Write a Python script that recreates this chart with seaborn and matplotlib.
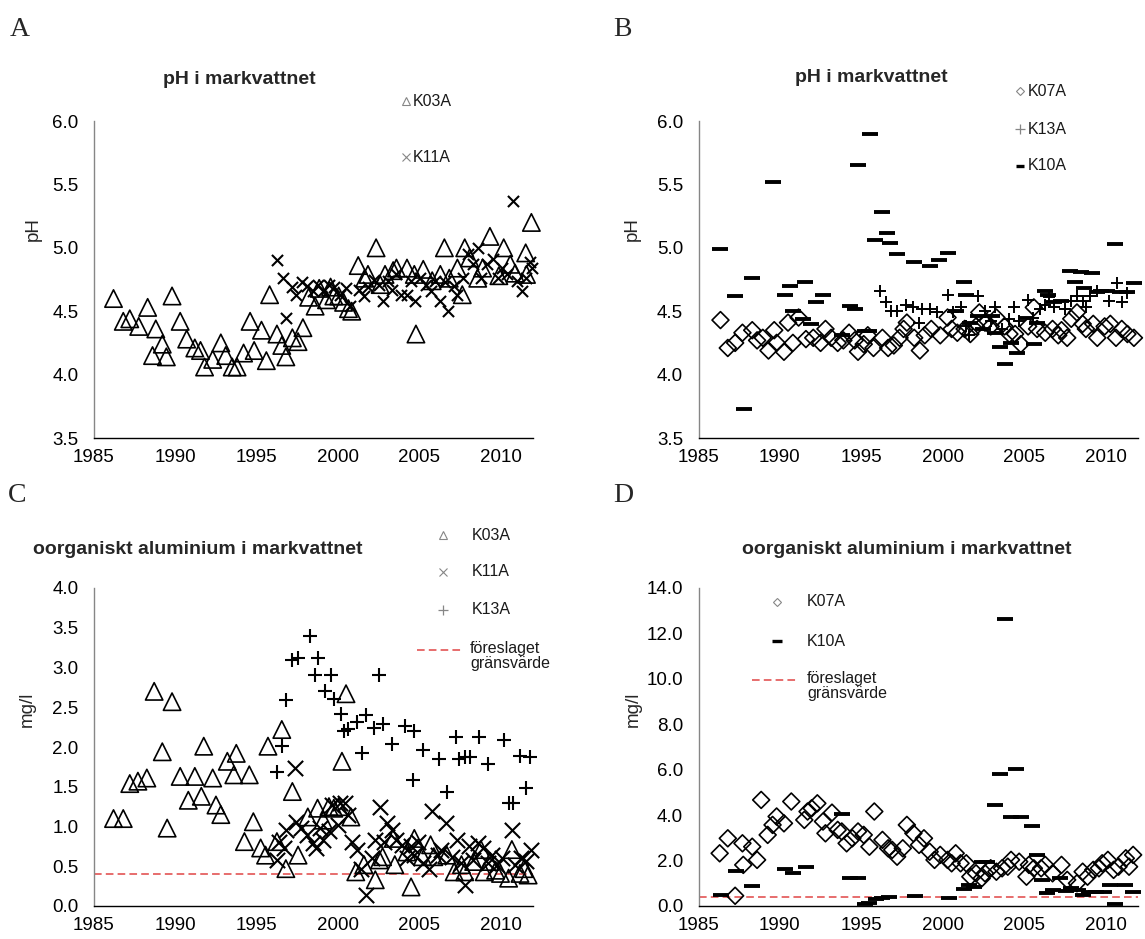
import matplotlib
matplotlib.use("Agg")
import matplotlib.pyplot as plt
import numpy as np
import pandas as pd
import seaborn as sns

# ---------------------------------------------------------------- data
# Panel A: pH in soil water, K03A and K11A
a_k03_year = [1986.2, 1986.8, 1987.2, 1987.75, 1988.3, 1988.6, 1988.8, 1989.2, 1989.45, 1989.8,
              1990.3, 1990.7, 1991.2, 1991.55, 1991.8, 1992.3, 1992.8, 1993.1, 1993.5, 1993.8,
              1994.2, 1994.6, 1994.85, 1995.3, 1995.6, 1995.8, 1996.25, 1996.55, 1996.8, 1997.2,
              1997.55, 1997.85, 1998.2, 1998.6, 1998.85, 1999.3, 1999.55, 1999.75, 2000.05, 2000.35,
              2000.65, 2000.85, 2001.25, 2001.65, 2001.85, 2002.35, 2002.6, 2002.9, 2003.4, 2003.6,
              2004.25, 2004.7, 2004.8, 2005.25, 2005.8, 2006.3, 2006.55, 2006.85, 2007.35, 2007.65,
              2007.8, 2008.1, 2008.6, 2008.9, 2009.35, 2009.9, 2010.2, 2010.6, 2010.9, 2011.55,
              2011.9, 2011.6]
a_k03_ph = [4.60, 4.42, 4.44, 4.38, 4.53, 4.15, 4.36, 4.24, 4.14, 4.62,
            4.42, 4.28, 4.21, 4.19, 4.06, 4.12, 4.25, 4.15, 4.06, 4.06,
            4.17, 4.42, 4.19, 4.35, 4.11, 4.63, 4.32, 4.23, 4.14, 4.29,
            4.26, 4.37, 4.61, 4.54, 4.68, 4.59, 4.69, 4.62, 4.62, 4.57,
            4.52, 4.50, 4.86, 4.76, 4.79, 5.00, 4.71, 4.79, 4.82, 4.84,
            4.84, 4.79, 4.32, 4.83, 4.74, 4.79, 5.00, 4.76, 4.84, 4.63,
            5.00, 4.92, 4.76, 4.84, 5.09, 4.78, 5.00, 4.87, 4.80, 4.96,
            5.20, 4.79]
a_k11_year = [1996.25, 1996.6, 1996.8, 1997.2, 1997.45, 1997.8, 1998.1, 1998.45, 1998.8, 1999.1,
              1999.45, 1999.75, 2000.1, 2000.5, 2000.75, 2001.3, 2001.6, 2001.85, 2002.2, 2002.5,
              2002.8, 2003.1, 2003.35, 2003.6, 2003.9, 2004.25, 2004.5, 2004.75, 2005.05, 2005.4,
              2005.7, 2006.0, 2006.25, 2006.6, 2006.8, 2007.15, 2007.35, 2007.7, 2008.0, 2008.3,
              2008.6, 2008.8, 2009.15, 2009.55, 2009.85, 2010.1, 2010.4, 2010.8, 2011.0, 2011.3,
              2011.55, 2011.8, 2011.95]
a_k11_ph = [4.90, 4.76, 4.45, 4.69, 4.63, 4.73, 4.70, 4.66, 4.71, 4.66,
            4.71, 4.69, 4.63, 4.68, 4.54, 4.67, 4.62, 4.69, 4.75, 4.71,
            4.58, 4.74, 4.67, 4.79, 4.63, 4.63, 4.74, 4.58, 4.76, 4.71,
            4.66, 4.74, 4.58, 4.73, 4.50, 4.70, 4.63, 4.76, 4.95, 4.87,
            5.00, 4.76, 4.87, 4.91, 4.76, 4.84, 4.79, 5.37, 4.74, 4.66,
            4.76, 4.89, 4.84]

# Panel B: pH in soil water, K07A, K13A and K10A
b_k07_year = [1986.35, 1986.8, 1987.25, 1987.7, 1988.3, 1988.6, 1988.95, 1989.3, 1989.65, 1989.8,
              1990.25, 1990.5, 1990.8, 1991.15, 1991.6, 1992.05, 1992.5, 1992.8, 1993.15, 1993.55,
              1993.9, 1994.25, 1994.6, 1994.8, 1995.15, 1995.4, 1995.75, 1996.3, 1996.65, 1997.0,
              1997.35, 1997.6, 1997.8, 1998.25, 1998.6, 1998.9, 1999.3, 1999.85, 2000.3, 2000.55,
              2000.9, 2001.35, 2001.7, 2002.05, 2002.25, 2002.6, 2002.95, 2003.3, 2003.8, 2004.1,
              2004.45, 2004.8, 2005.25, 2005.6, 2005.8, 2006.3, 2006.75, 2007.1, 2007.3, 2007.65,
              2007.9, 2008.25, 2008.6, 2008.8, 2009.25, 2009.5, 2009.95, 2010.3, 2010.65, 2011.0,
              2011.35, 2011.75]
b_k07_ph = [4.43, 4.21, 4.25, 4.33, 4.35, 4.27, 4.29, 4.19, 4.35, 4.25,
            4.18, 4.41, 4.25, 4.45, 4.28, 4.29, 4.25, 4.36, 4.29, 4.25,
            4.27, 4.33, 4.27, 4.18, 4.24, 4.31, 4.21, 4.29, 4.21, 4.23,
            4.29, 4.36, 4.41, 4.29, 4.19, 4.31, 4.36, 4.31, 4.45, 4.36,
            4.33, 4.36, 4.32, 4.38, 4.49, 4.41, 4.38, 4.45, 4.38, 4.32,
            4.32, 4.24, 4.38, 4.53, 4.36, 4.33, 4.36, 4.31, 4.35, 4.29,
            4.44, 4.49, 4.40, 4.36, 4.40, 4.29, 4.38, 4.40, 4.29, 4.36,
            4.32, 4.29]
b_k13_year = [1996.15, 1996.5, 1996.8, 1997.2, 1997.75, 1998.15, 1998.55, 1998.7, 1999.25, 1999.65,
              2000.35, 2000.65, 2001.1, 2001.45, 2001.6, 2002.15, 2002.6, 2002.95, 2003.2, 2003.65,
              2004.1, 2004.4, 2004.7, 2005.25, 2005.55, 2006.0, 2006.3, 2006.55, 2006.85, 2007.5,
              2007.9, 2008.25, 2008.6, 2008.8, 2009.05, 2009.5, 2010.2, 2010.7, 2011.0, 2011.35]
b_k13_ph = [4.66, 4.57, 4.50, 4.50, 4.55, 4.53, 4.41, 4.52, 4.52, 4.49,
            4.63, 4.49, 4.53, 4.38, 4.31, 4.62, 4.50, 4.42, 4.53, 4.36,
            4.44, 4.53, 4.42, 4.59, 4.45, 4.52, 4.55, 4.61, 4.53, 4.52,
            4.58, 4.62, 4.58, 4.53, 4.62, 4.66, 4.58, 4.72, 4.57, 4.64]
b_k10_year = [1986.3, 1987.25, 1987.8, 1988.3, 1989.6, 1990.3, 1990.6, 1990.8, 1991.4, 1991.55,
              1991.9, 1992.2, 1992.65, 1993.8, 1994.3, 1994.6, 1994.8, 1995.2, 1995.5, 1995.55,
              1995.85, 1996.3, 1996.6, 1996.75, 1997.2, 1998.25, 1999.25, 1999.8, 2000.3, 2000.8,
              2001.3, 2001.45, 2001.7, 2002.15, 2002.5, 2003.0, 2003.2, 2003.55, 2003.8, 2004.2,
              2004.55, 2005.15, 2005.6, 2005.8, 2006.3, 2006.5, 2006.85, 2007.3, 2007.8, 2008.1,
              2008.5, 2008.7, 2009.2, 2009.5, 2009.75, 2010.1, 2010.6, 2010.9, 2011.3, 2011.75]
b_k10_ph = [4.99, 4.62, 3.73, 4.76, 5.52, 4.63, 4.70, 4.50, 4.44, 4.73,
            4.40, 4.57, 4.63, 4.31, 4.54, 4.52, 5.65, 4.34, 4.34, 5.90,
            5.06, 5.28, 5.12, 5.04, 4.95, 4.89, 4.86, 4.90, 4.96, 4.50,
            4.73, 4.63, 4.41, 4.46, 4.36, 4.46, 4.33, 4.22, 4.08, 4.25,
            4.17, 4.45, 4.24, 4.41, 4.66, 4.63, 4.57, 4.58, 4.82, 4.73,
            4.81, 4.68, 4.80, 4.65, 4.66, 4.66, 5.03, 4.65, 4.65, 4.72]

# Panel C: organic aluminium (mg/l), K03A, K11A and K13A
c_k03_year = [1986.2, 1986.8, 1987.2, 1987.7, 1988.25, 1988.7, 1989.2, 1989.5, 1989.8, 1990.3,
              1990.8, 1991.2, 1991.6, 1991.75, 1992.3, 1992.5, 1992.8, 1993.2, 1993.6, 1993.75,
              1994.25, 1994.55, 1994.8, 1995.25, 1995.55, 1995.7, 1996.25, 1996.55, 1996.8, 1997.2,
              1997.55, 1998.15, 1998.75, 1999.1, 1999.45, 1999.75, 2000.05, 2000.25, 2000.5, 2000.8,
              2001.1, 2001.6, 2002.3, 2002.55, 2002.75, 2003.4, 2003.5, 2004.25, 2004.5, 2004.7,
              2005.2, 2005.7, 2005.9, 2006.7, 2007.15, 2007.6, 2007.8, 2008.35, 2008.8, 2009.0,
              2009.35, 2009.7, 2010.0, 2010.5, 2010.7, 2011.2, 2011.45, 2011.7]
c_k03_al = [1.10, 1.10, 1.54, 1.57, 1.61, 2.70, 1.94, 0.98, 2.57, 1.63,
            1.33, 1.63, 1.38, 2.01, 1.61, 1.27, 1.15, 1.82, 1.65, 1.92,
            0.81, 1.65, 1.06, 0.73, 0.64, 2.01, 0.81, 2.22, 0.47, 1.44,
            0.64, 1.12, 1.23, 1.08, 1.25, 1.23, 1.25, 1.82, 2.67, 1.12,
            0.43, 0.52, 0.33, 0.58, 0.62, 0.85, 0.52, 0.68, 0.24, 0.85,
            0.62, 0.77, 0.62, 0.64, 0.43, 0.52, 0.43, 0.56, 0.71, 0.43,
            0.56, 0.45, 0.41, 0.35, 0.71, 0.41, 0.47, 0.39]
c_k11_year = [1996.25, 1996.35, 1996.7, 1996.8, 1997.35, 1997.45, 1997.75, 1998.1, 1998.45, 1998.65,
              1998.9, 1999.1, 1999.45, 1999.65, 2000.0, 2000.1, 2000.45, 2000.65, 2000.85, 2001.2,
              2001.45, 2001.75, 2002.1, 2002.3, 2002.6, 2002.85, 2003.05, 2003.35, 2003.6, 2003.95,
              2004.25, 2004.5, 2004.7, 2004.95, 2005.25, 2005.6, 2005.8, 2006.15, 2006.35, 2006.65,
              2007.0, 2007.35, 2007.6, 2007.8, 2008.05, 2008.3, 2008.6, 2008.9, 2009.25, 2009.45,
              2009.8, 2010.1, 2010.7, 2010.9, 2011.25, 2011.55, 2011.9]
c_k11_al = [0.58, 0.81, 0.73, 0.96, 1.73, 1.06, 0.98, 0.89, 0.79, 0.73,
            0.98, 0.83, 0.94, 1.27, 1.02, 1.29, 1.29, 1.15, 0.81, 0.71,
            0.47, 0.14, 0.60, 0.83, 1.25, 0.81, 1.04, 0.96, 0.83, 0.77,
            0.60, 0.75, 0.64, 0.81, 0.54, 0.47, 1.19, 0.64, 0.71, 1.04,
            0.62, 0.83, 0.54, 0.26, 0.75, 0.58, 0.79, 0.73, 0.54, 0.64,
            0.52, 0.60, 0.96, 0.52, 0.60, 0.56, 0.71]
c_k13_year = [1996.25, 1996.55, 1996.8, 1997.15, 1997.55, 1998.3, 1998.6, 1998.8, 1999.2, 1999.55,
              1999.75, 2000.2, 2000.4, 2000.65, 2001.2, 2001.5, 2001.75, 2002.25, 2002.5, 2002.75,
              2003.3, 2004.15, 2004.6, 2004.7, 2005.25, 2006.2, 2006.7, 2007.25, 2007.45, 2007.8,
              2008.1, 2008.7, 2009.25, 2010.2, 2010.55, 2010.75, 2011.2, 2011.55, 2011.8]
c_k13_al = [1.69, 2.01, 2.59, 3.09, 3.12, 3.39, 2.90, 3.12, 2.70, 2.90,
            2.61, 2.42, 2.20, 2.23, 2.32, 1.93, 2.40, 2.24, 2.90, 2.29,
            2.04, 2.26, 1.59, 2.20, 1.96, 1.85, 1.44, 2.12, 1.85, 1.87,
            1.88, 2.12, 1.78, 2.09, 1.30, 1.30, 1.89, 1.48, 1.87]

# Panel D: organic aluminium (mg/l), K07A and K10A
d_k07_year = [1986.3, 1986.8, 1987.25, 1987.7, 1987.75, 1988.3, 1988.6, 1988.85, 1989.25, 1989.55,
              1989.8, 1990.25, 1990.7, 1991.5, 1991.7, 1991.95, 1992.3, 1992.65, 1992.8, 1993.2,
              1993.55, 1993.8, 1994.1, 1994.45, 1994.8, 1995.15, 1995.5, 1995.8, 1996.3, 1996.65,
              1996.9, 1997.2, 1997.55, 1997.8, 1998.2, 1998.55, 1998.85, 1999.2, 1999.5, 1999.85,
              2000.3, 2000.55, 2000.8, 2001.1, 2001.45, 2001.7, 2002.05, 2002.4, 2002.6, 2002.95,
              2003.3, 2003.65, 2004.0, 2004.2, 2004.7, 2005.15, 2005.3, 2005.6, 2006.05, 2006.3,
              2006.75, 2007.3, 2007.65, 2008.25, 2008.6, 2008.9, 2009.25, 2009.6, 2009.8, 2010.15,
              2010.5, 2010.8, 2011.25, 2011.45, 2011.7]
d_k07_al = [2.32, 2.98, 0.45, 2.76, 1.81, 2.61, 2.03, 4.67, 3.13, 3.57,
            3.94, 3.64, 4.60, 3.79, 4.16, 4.30, 4.52, 3.72, 3.20, 4.11,
            3.35, 3.28, 2.76, 2.98, 3.28, 3.13, 2.61, 4.16, 2.91, 2.54,
            2.47, 2.17, 2.54, 3.57, 3.20, 2.69, 2.98, 2.39, 2.03, 2.25,
            2.03, 1.88, 2.32, 1.88, 1.88, 1.29, 1.44, 1.22, 1.44, 1.66,
            1.51, 1.66, 1.73, 2.03, 1.95, 1.29, 1.81, 1.66, 1.66, 1.81,
            1.44, 1.81, 1.15, 1.00, 1.51, 1.29, 1.59, 1.66, 1.88, 2.03,
            1.59, 1.73, 2.10, 1.73, 2.25]
d_k10_year = [1986.4, 1987.3, 1988.3, 1990.3, 1990.8, 1991.6, 1993.8, 1994.3, 1994.8, 1995.2,
              1995.5, 1995.9, 1996.3, 1996.7, 1998.3, 2000.4, 2001.3, 2001.6, 2001.9, 2002.4,
              2002.7, 2003.2, 2003.5, 2003.8, 2004.2, 2004.5, 2004.8, 2005.5, 2005.8, 2006.1,
              2006.4, 2006.8, 2007.2, 2007.6, 2007.9, 2008.3, 2008.6, 2009.0, 2009.4, 2009.9,
              2010.3, 2010.6, 2011.2, 2011.7]
d_k10_al = [0.48, 1.56, 0.90, 1.63, 1.44, 1.70, 4.05, 1.22, 1.25, 0.10,
            0.12, 0.30, 0.35, 0.38, 0.45, 0.37, 0.75, 0.92, 0.85, 1.95,
            1.95, 4.46, 5.81, 12.62, 3.92, 6.03, 3.92, 3.51, 2.25, 1.14,
            0.59, 0.69, 1.22, 0.68, 0.80, 0.70, 0.50, 0.60, 0.60, 0.60,
            0.92, 0.10, 0.92, 0.63]

limit_value = 0.4          # proposed limit, mg/l
x_ticks = [1985, 1990, 1995, 2000, 2005, 2010]

# ---------------------------------------------------------------- style
sns.set_style("white")
plt.rcParams["font.family"] = ["Liberation Sans", "DejaVu Sans"]
plt.rcParams["lines.scale_dashes"] = False

W, H = 1145, 939
fig = plt.figure(figsize=(W / 100, H / 100), dpi=100)


def px_axes(left, top, right, bottom):
    return fig.add_axes([left / W, 1 - bottom / H, (right - left) / W, (bottom - top) / H])


RED = "#e04545"
GRAY = "#868686"
TICK_FS = 13.5


def style_axes(ax, ylim, yticks, yfmt):
    ax.set_xlim(1985, 2012)
    ax.set_ylim(*ylim)
    ax.set_xticks(x_ticks)
    ax.set_yticks(yticks)
    ax.set_yticklabels([yfmt.format(v) for v in yticks])
    for s in ("top", "right"):
        ax.spines[s].set_visible(False)
    ax.spines["left"].set_color(GRAY)
    ax.spines["left"].set_linewidth(1.0)
    ax.spines["bottom"].set_color("black")
    ax.spines["bottom"].set_linewidth(1.0)
    ax.tick_params(axis="x", direction="in", length=5, width=0.8, colors="black",
                   labelsize=TICK_FS, pad=8)
    ax.tick_params(axis="y", direction="in", length=5, width=0.8, color=GRAY,
                   labelcolor="black", labelsize=TICK_FS, pad=11)
    ax.set_xlabel("")
    ax.grid(False)
    ax.set_facecolor("none")


def scatter(ax, x, y, marker, size, lw, open_face=False):
    df = pd.DataFrame({"year": x, "value": y})
    kws = dict(data=df, x="year", y="value", ax=ax, marker=marker, s=size ** 2,
               linewidth=lw, color="black", legend=False, clip_on=False, zorder=3)
    if open_face:
        kws.update(facecolor="none", edgecolor="black")
    sns.scatterplot(**kws)


# ---------------------------------------------------------------- panel A
axA = px_axes(94, 121, 533, 438)
scatter(axA, a_k03_year, a_k03_ph, "^", 12.5, 1.2, open_face=True)
scatter(axA, a_k11_year, a_k11_ph, "x", 8.0, 1.5)
style_axes(axA, (3.5, 6.0), [3.5, 4.0, 4.5, 5.0, 5.5, 6.0], "{:.1f}")
axA.set_ylabel("pH", fontsize=TICK_FS)
axA.yaxis.set_label_coords(-0.118, 0.66)

# ---------------------------------------------------------------- panel B
axB = px_axes(698.5, 121, 1138, 438)
scatter(axB, b_k07_year, b_k07_ph, "D", 8.6, 1.2, open_face=True)
scatter(axB, b_k13_year, b_k13_ph, "+", 9.0, 1.4)
scatter(axB, b_k10_year, b_k10_ph, "_", 12.0, 2.8)
style_axes(axB, (3.5, 6.0), [3.5, 4.0, 4.5, 5.0, 5.5, 6.0], "{:.1f}")
axB.set_ylabel("pH", fontsize=TICK_FS)
axB.yaxis.set_label_coords(-0.131, 0.66)

# ---------------------------------------------------------------- panel C
axC = px_axes(94, 588, 533, 906)
axC.axhline(limit_value, color=RED, lw=1.1, dashes=(5.5, 3.0), zorder=2)
scatter(axC, c_k03_year, c_k03_al, "^", 12.5, 1.2, open_face=True)
scatter(axC, c_k11_year, c_k11_al, "x", 11.0, 1.5)
scatter(axC, c_k13_year, c_k13_al, "+", 10.0, 1.5)
style_axes(axC, (0.0, 4.0), [0.0, 0.5, 1.0, 1.5, 2.0, 2.5, 3.0, 3.5, 4.0], "{:.1f}")
axC.set_ylabel("mg/l", fontsize=TICK_FS)
axC.yaxis.set_label_coords(-0.132, 0.62)

# ---------------------------------------------------------------- panel D
axD = px_axes(698.5, 588, 1138, 906)
axD.axhline(limit_value, color=RED, lw=1.1, dashes=(5.5, 3.0), zorder=2)
scatter(axD, d_k07_year, d_k07_al, "D", 8.6, 1.2, open_face=True)
scatter(axD, d_k10_year, d_k10_al, "_", 12.0, 2.8)
style_axes(axD, (0.0, 14.0), [0, 2, 4, 6, 8, 10, 12, 14], "{:.1f}")
axD.set_ylabel("mg/l", fontsize=TICK_FS)
axD.yaxis.set_label_coords(-0.129, 0.62)

# ---------------------------------------------------------------- overlay (titles, letters, legends)
ov = fig.add_axes([0, 0, 1, 1], zorder=10)
ov.set_xlim(0, W)
ov.set_ylim(H, 0)
ov.axis("off")
ov.patch.set_alpha(0)

serif = ["Liberation Serif", "DejaVu Serif"]
for letter, (lx, ly) in {"A": (10, 29), "B": (613, 29), "C": (8, 496), "D": (613, 496)}.items():
    ov.text(lx, ly, letter, fontsize=20, family=serif, ha="left", va="center")

title_ph = "pH i markvattnet"
title_al = "oorganiskt aluminium i markvattnet"
ov.text(239, 80, title_ph, fontsize=14, fontweight="bold", ha="center", va="center")
ov.text(871, 77, title_ph, fontsize=14, fontweight="bold", ha="center", va="center")
ov.text(198, 549, title_al, fontsize=14, fontweight="bold", ha="center", va="center")
ov.text(907, 549, title_al, fontsize=14, fontweight="bold", ha="center", va="center")

LEG_FS = 11.5


def leg_marker(x, y, marker, size, lw, color=GRAY, open_face=True):
    ov.plot([x], [y], marker=marker, markersize=size, markeredgewidth=lw,
            markeredgecolor=color, markerfacecolor="none" if open_face else color,
            linestyle="none")


def leg_text(x, y, s):
    ov.text(x, y, s, fontsize=LEG_FS, ha="left", va="center", color="#1a1a1a")


def leg_limit(x0, x1, y, tx):
    ov.plot([x0, x1], [y, y], color=RED, lw=1.1, dashes=(5.5, 3.0))
    ov.text(tx, y - 9, "föreslaget\ngränsvärde", fontsize=LEG_FS, ha="left", va="top",
            color="#1a1a1a", linespacing=1.0)


# legend A
leg_marker(406, 101, "^", 5.5, 0.8)
leg_text(413, 101, "K03A")
leg_marker(406, 157, "x", 5.5, 0.8)
leg_text(413, 157, "K11A")

# legend B
leg_marker(1020, 91, "D", 3.8, 0.8)
leg_text(1028, 91, "K07A")
leg_marker(1020, 129, "+", 6.5, 0.9)
leg_text(1028, 129, "K13A")
leg_marker(1020, 166, "_", 6, 2.4, color="black")
leg_text(1028, 166, "K10A")

# legend C
leg_marker(443, 535, "^", 5.5, 0.8)
leg_text(472, 535, "K03A")
leg_marker(443, 572, "x", 5.5, 0.8)
leg_text(472, 572, "K11A")
leg_marker(443, 610, "+", 6.5, 0.9)
leg_text(472, 610, "K13A")
leg_limit(417, 462, 650, 470)

# legend D
leg_marker(777, 602, "D", 3.8, 0.8)
leg_text(807, 602, "K07A")
leg_marker(777, 641, "_", 7, 2.4, color="black")
leg_text(807, 641, "K10A")
leg_limit(752, 799, 680, 807)

fig.savefig("out.png", dpi=100)
